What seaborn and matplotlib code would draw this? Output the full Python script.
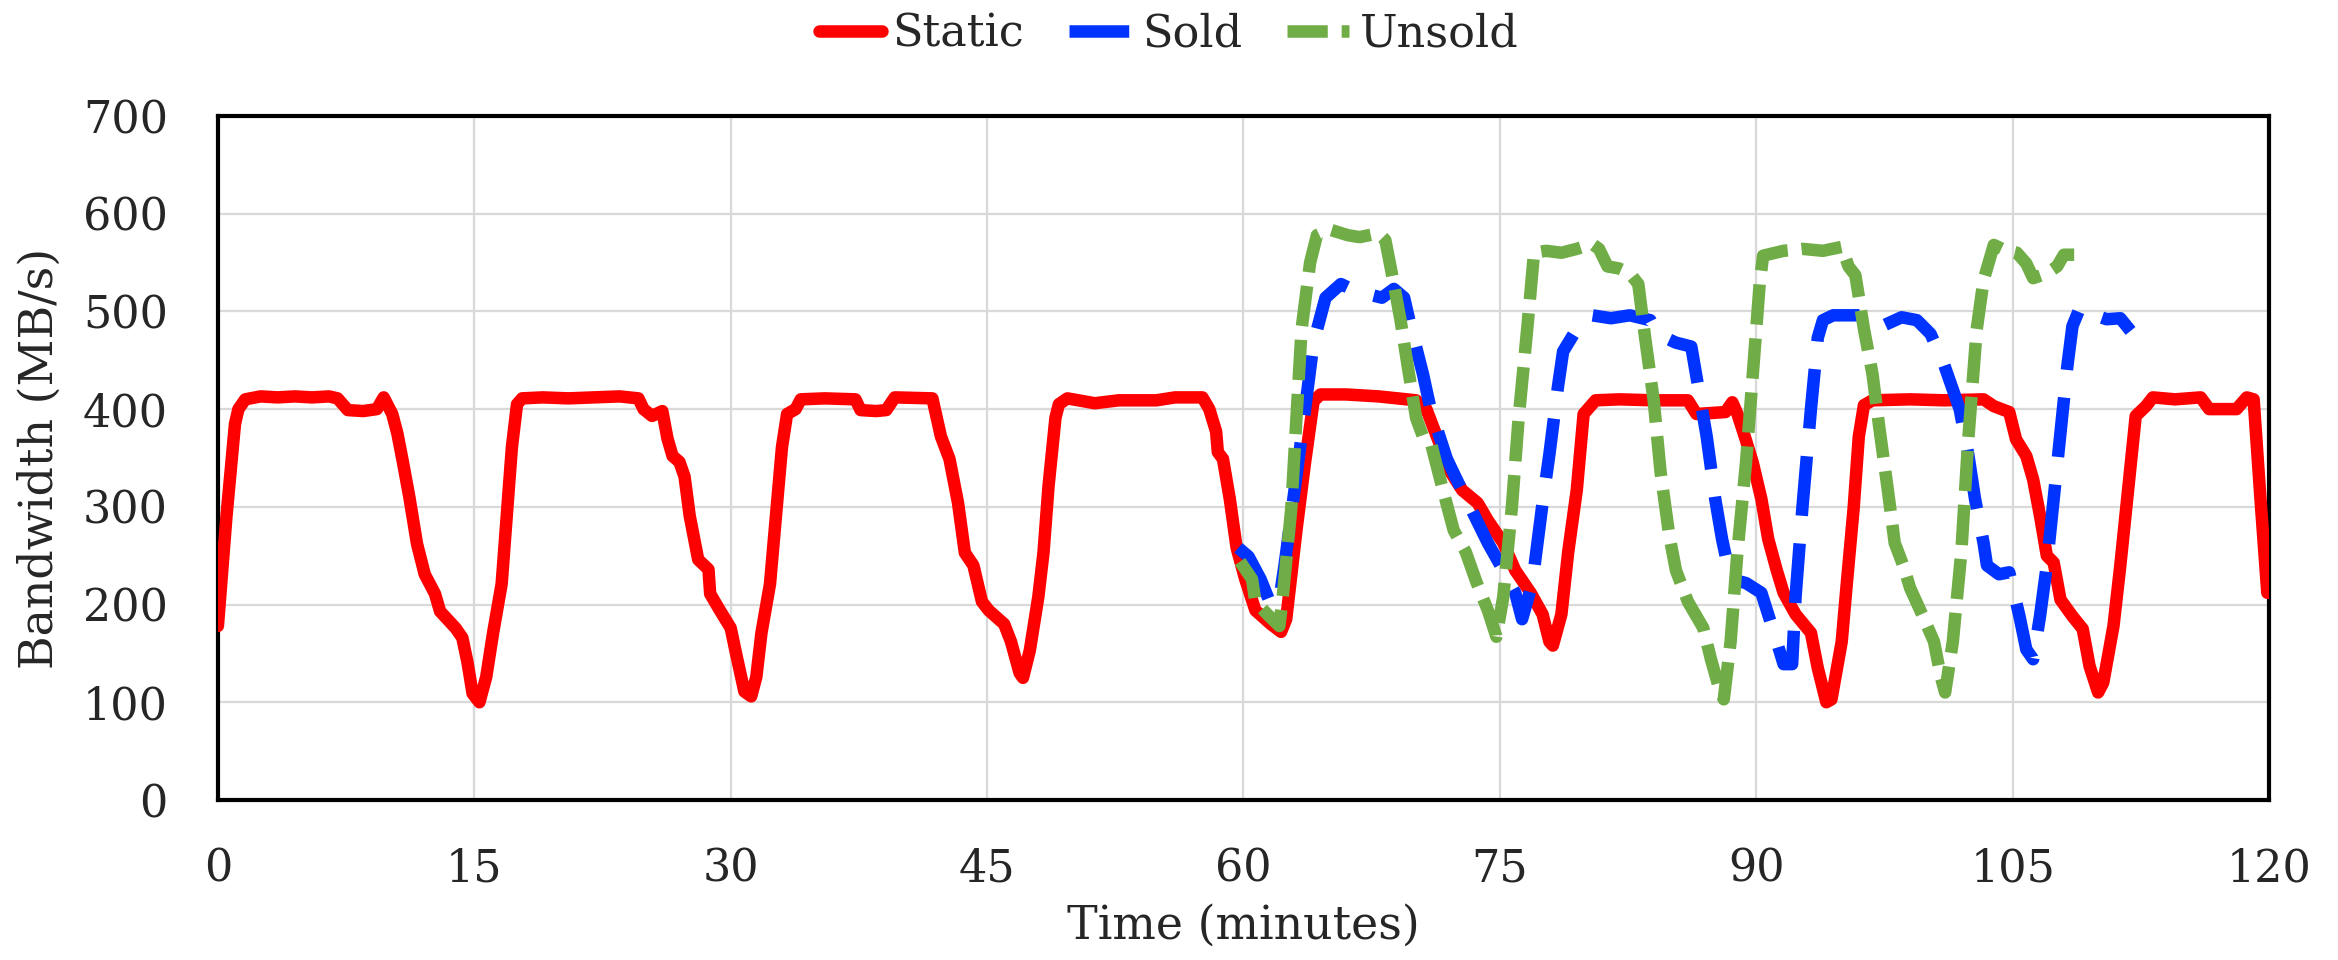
import matplotlib
matplotlib.use("Agg")
import matplotlib.pyplot as plt
import seaborn as sns
import pandas as pd

# ---------------- data ----------------
static_t = [0, 0.5, 1.0, 1.2, 1.6, 2.5, 3.5, 4.5, 5.5, 6.5, 7.0, 7.6, 8.5, 9.3, 9.7,
            10.2, 10.5, 10.8, 11.2, 11.65, 12.1, 12.7, 13.0, 13.9, 14.3, 14.6, 14.9,
            15.3, 15.7, 16.1, 16.6, 16.9, 17.2, 17.5, 17.8, 19, 20.5, 22, 23.5, 24.6,
            24.9, 25.4, 26.0, 26.3, 26.6, 27.0, 27.3, 27.6, 28.1, 28.7, 28.8, 29.3,
            30.0, 30.3, 30.8, 31.2, 31.5, 31.8, 32.3, 32.6, 33.0, 33.3, 33.8, 34.1,
            35.5, 37.3, 37.6, 38.5, 39.1, 39.6, 41.8, 42.3, 42.8, 43.3, 43.7, 44.2,
            44.7, 45.1, 46.0, 46.4, 46.9, 47.1, 47.5, 48.0, 48.3, 48.6, 49.0, 49.2,
            49.7, 51.3, 52.7, 54.9, 56.0, 57.6, 58.0, 58.4, 58.5, 58.8, 59.2, 59.6,
            60.1, 60.7, 61.6, 62.2, 62.5, 63.1, 63.6, 64.1, 64.5, 66, 67.9, 70.1,
            70.7, 71.4, 72.1, 72.8, 73.7, 74.3, 75.2, 75.9, 76.8, 77.5, 77.9, 78.1,
            78.6, 79.0, 79.5, 79.9, 80.6, 82, 84, 86.0, 86.5, 88.2, 88.6, 88.9, 89.4,
            89.8, 90.3, 90.7, 91.2, 91.6, 92.3, 93.2, 93.6, 94.1, 94.4, 95.0, 95.3,
            95.7, 96.0, 96.3, 96.8, 99, 101, 103.3, 103.9, 104.8, 105.2, 105.8, 106.2,
            106.6, 107.0, 107.4, 107.8, 108.5, 109.1, 109.5, 110.0, 110.3, 110.9,
            111.3, 111.9, 112.2, 112.8, 113.2, 114.5, 116.0, 116.5, 118.1, 118.7,
            119.1, 119.5, 119.9]
static_v = [178, 290, 385, 400, 410, 413, 412, 413, 412, 413, 411, 399, 398, 400, 412,
            395, 375, 348, 310, 262, 231, 211, 193, 176, 166, 141, 109,
            100, 126, 171, 221, 291, 361, 405, 411, 412, 411, 412, 413, 411,
            400, 393, 398, 370, 352, 346, 331, 291, 246, 236, 211, 196,
            176, 151, 111, 106, 126, 171, 221, 281, 361, 395, 400, 410,
            411, 410, 399, 398, 399, 412, 411, 372, 349, 304, 253, 240,
            203, 194, 180, 162, 130, 125, 153, 208, 253, 322, 391, 405,
            411, 406, 409, 409, 412, 412, 400, 377, 356, 349, 308, 258,
            226, 194, 180, 172, 185, 276, 345, 408, 415, 415, 413, 409,
            400, 368, 336, 317, 304, 286, 263, 235, 212, 190, 162, 158,
            190, 254, 317, 395, 409, 410, 409, 409, 395, 397, 407, 395, 368,
            345, 308, 267, 235, 212, 190, 171, 135, 100, 103, 162, 222,
            299, 372, 404, 409, 410, 409, 410, 403, 397, 369, 352, 328,
            291, 250, 243, 205, 188, 175, 137, 110, 120, 178,
            240, 342, 393, 403, 412, 410, 412, 400, 400, 412,
            410, 308, 212]

sold_t = [59.7, 60.3, 61.0, 61.6, 62.1, 62.4, 63.2, 64.1, 64.8, 65.7, 66.3, 67.2, 68.1,
          68.8, 69.4, 69.7, 70.5, 70.95, 71.9, 72.5, 73.4, 74.3, 75.2, 75.9, 76.3,
          76.9, 77.5, 77.9, 78.4, 78.7, 79.5, 80.4, 81.5, 82.6, 83.8, 84.2, 85.3,
          86.2, 86.7, 87.1, 87.6, 88.0, 88.5, 89.4, 90.3, 91.2, 91.6, 92.1, 92.3,
          92.7, 93.2, 93.6, 93.9, 94.5, 96.1, 97.5, 98.5, 99.4, 100.2, 101.0, 101.9,
          102.4, 102.8, 103.3, 103.5, 104.2, 104.8, 105.4, 105.8, 106.2, 106.6,
          107.0, 107.4, 107.8, 108.2, 108.5, 108.9, 109.3, 110.0, 110.5, 111.3, 111.9]
sold_v = [258, 249, 226, 200, 205, 240, 345, 468, 514, 528, 523, 518, 514,
          523, 514, 491, 436, 400, 349, 327, 295, 263, 235, 212, 185,
          222, 304, 354, 423, 459, 482, 496, 493, 496, 491, 477, 468,
          464, 413, 372, 308, 267, 226, 222, 212, 162, 139, 139, 208,
          299, 400, 473, 491, 496, 496, 486, 494, 491, 477, 445, 400,
          354, 308, 263, 240, 231, 233, 188, 154, 144, 188,
          240, 308, 376, 444, 485, 502, 503, 495, 492, 493, 480]

unsold_t = [59.8, 60.5, 60.7, 61.4, 62.1, 62.3, 62.8, 63.1, 63.4, 63.9, 64.3, 65.0, 66.1,
            66.8, 67.9, 68.3, 68.8, 69.2, 69.6, 70.1, 70.5, 71.0, 71.6, 72.3, 73.0,
            73.65, 74.3, 74.8, 75.2, 75.7, 76.1, 76.6, 77.0, 77.7, 78.6, 79.5, 80.4,
            80.8, 81.3, 81.96, 82.6, 83.1, 83.5, 84.0, 84.4, 84.9, 85.3, 86.0, 86.9,
            87.35, 87.8, 88.1, 88.5, 88.9, 89.4, 89.8, 90.2, 90.4, 91.6, 92.7, 93.9,
            95.0, 95.4, 95.8, 96.3, 96.8, 97.2, 97.7, 98.1, 98.6, 99.0, 99.7, 100.4,
            100.8, 101.05, 101.5, 102.0, 102.4, 102.9, 103.3, 103.9, 104.5, 105.25,
            105.8, 106.2, 107.0, 107.6, 108.0, 108.6]
unsold_v = [244, 226, 203, 190, 178, 208, 299, 391, 482, 550, 578, 584, 578,
            576, 580, 573, 528, 490, 445, 391, 372, 363, 322, 276, 254,
            222, 194, 167, 208, 299, 391, 482, 560, 562, 560, 564, 569,
            564, 546, 544, 539, 528, 473, 409, 336, 272, 235, 203, 176,
            144, 116, 103, 162, 254, 345, 436, 528, 557, 562, 564, 562,
            566, 546, 537, 482, 436, 381, 317, 263, 240, 217, 190, 162,
            126, 110, 162, 254, 368, 482, 532, 568, 563, 560,
            549, 534, 539, 546, 558, 558]

series_names = ["Static", "Sold", "Unsold"]
x_ticks = [0, 15, 30, 45, 60, 75, 90, 105, 120]
y_ticks = [0, 100, 200, 300, 400, 500, 600, 700]

# ---------------- style ----------------
sns.set_theme(style="white")
plt.rcParams["font.family"] = ["DejaVu Serif"]
plt.rcParams["lines.scale_dashes"] = False

fig = plt.figure(figsize=(23.38, 9.6), dpi=100)
ax = fig.add_axes([0.0932, 0.1667, 0.8773, 0.7125])

df_s = pd.DataFrame({"t": static_t, "v": static_v})
df_b = pd.DataFrame({"t": sold_t, "v": sold_v})
df_g = pd.DataFrame({"t": unsold_t, "v": unsold_v})

sns.lineplot(data=df_s, x="t", y="v", ax=ax, color="#FF0000", lw=9,
             estimator=None, label=series_names[0], solid_capstyle="round",
             solid_joinstyle="round", zorder=3)
sns.lineplot(data=df_b, x="t", y="v", ax=ax, color="#0033FF", lw=9,
             estimator=None, label=series_names[1], dashes=False, zorder=4)
sns.lineplot(data=df_g, x="t", y="v", ax=ax, color="#70AD47", lw=9,
             estimator=None, label=series_names[2], dashes=False, zorder=5)

lines = ax.get_lines()
lines[1].set_dashes((43, 20))
lines[1].set_dash_capstyle("butt")
lines[2].set_dashes((29, 10))
lines[2].set_dash_capstyle("butt")

ax.set_xlim(0, 120)
ax.set_ylim(0, 700)
ax.set_xticks(x_ticks)
ax.set_yticks(y_ticks)
ax.set_xticklabels([str(v) for v in x_ticks])
ax.set_yticklabels([str(v) for v in y_ticks])
ax.tick_params(axis="x", length=0, pad=34, labelsize=32)
ax.tick_params(axis="y", length=0, pad=36, labelsize=32)

ax.grid(True, color="#D9D9D9", lw=1.6, zorder=0)
ax.set_axisbelow(True)
for sp in ax.spines.values():
    sp.set_visible(True)
    sp.set_color("black")
    sp.set_linewidth(3)

ax.set_xlabel("Time (minutes)", fontsize=33)
ax.set_ylabel("Bandwidth (MB/s)", fontsize=33)
ax.xaxis.set_label_coords(0.5, -0.152)
ax.yaxis.set_label_coords(-0.0756, 0.5)

ax.legend_.remove()
handles = ax.get_lines()[:3]
fig.legend(handles, series_names, loc="center", bbox_to_anchor=(0.5, 0.965),
           ncol=3, frameon=False, fontsize=32, handlelength=1.4,
           handletextpad=0.25, columnspacing=1.0)

fig.savefig("out.png", dpi=100, facecolor="white")
